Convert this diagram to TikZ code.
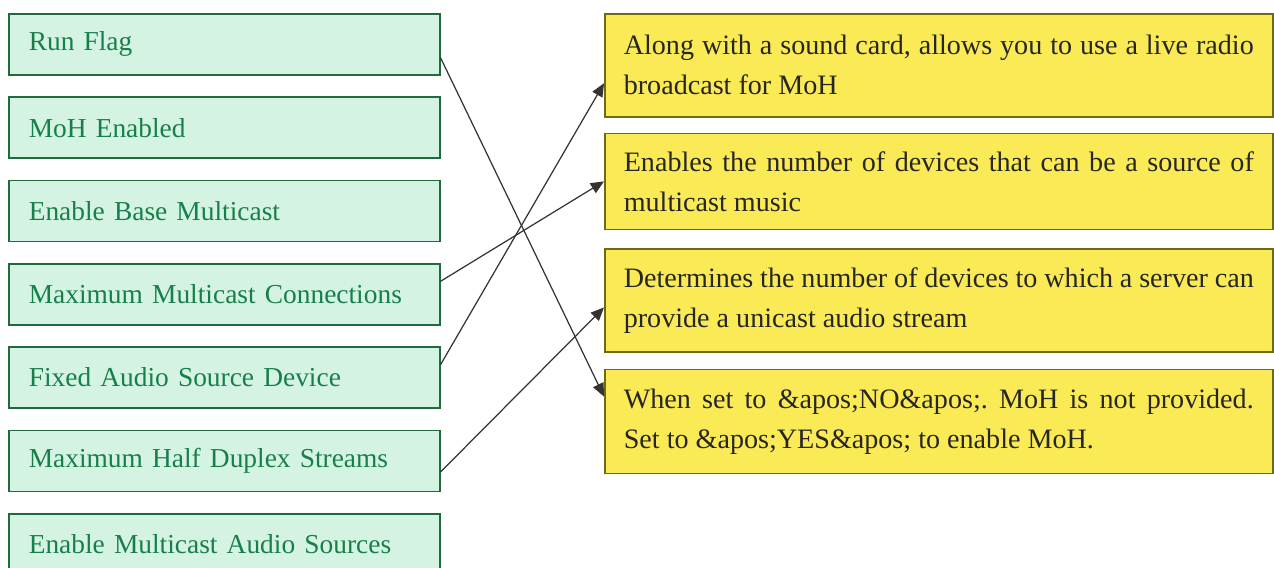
\documentclass[tikz,border=0pt]{standalone}
\usepackage{fontspec}
\setmainfont{Liberation Serif}
\usetikzlibrary{positioning,arrows.meta}

\definecolor{mintfill}{HTML}{D5F3E2}
\definecolor{mintdraw}{HTML}{1F6B3E}
\definecolor{minttext}{HTML}{17804A}
\definecolor{lemonfill}{HTML}{FAEA55}
\definecolor{lemondraw}{HTML}{6E6A10}
\definecolor{wirecol}{HTML}{333333}

\tikzset{
  param/.style={draw=mintdraw, fill=mintfill, text=minttext, line width=0.9pt,
    text width=7.82cm, inner xsep=0.4cm, minimum height=1.22cm, align=left,
    font=\fontsize{15.6}{20}\selectfont},
  descr/.style={draw=lemondraw, fill=lemonfill, text=black!85, line width=0.9pt,
    text width=12.6cm, inner xsep=0.38cm, minimum height=2.06cm, align=justify,
    font=\fontsize{16}{22.8}\selectfont\frenchspacing},
  wire/.style={wirecol, line width=0.7pt, -{Triangle[length=7.5pt,width=6.5pt]}}
}

\begin{document}
\begin{tikzpicture}[node distance=0.415cm]
    \useasboundingbox (0,0) rectangle (25.48,-11.34);

    % Parameters (left column)
    \node[param, anchor=north west] (runflag) at (0.16,-0.26) {Run Flag};
    \node[param, below=of runflag] (mohen) {MoH Enabled};
    \node[param, below=of mohen] (basemc) {Enable Base Multicast};
    \node[param, below=of basemc] (maxmc) {Maximum Multicast Connections};
    \node[param, below=of maxmc] (fixedsrc) {Fixed Audio Source Device};
    \node[param, below=of fixedsrc] (halfdup) {Maximum Half Duplex Streams};
    \node[param, below=of halfdup] (mcsrc) {Enable Multicast Audio Sources};

    % Descriptions (right column)
    \node[descr, anchor=north west, minimum height=2.06cm] (radio) at (12.08,-0.26)
        {Along with a sound card, allows you to use a live radio\linebreak broadcast for MoH};
    \node[descr, below=0.3cm of radio, minimum height=1.92cm] (devices)
        {Enables the number of devices that can be a source of\linebreak multicast music};
    \node[descr, below=0.36cm of devices, minimum height=2.06cm] (unicast)
        {Determines the number of devices to which a server can\linebreak provide a unicast audio stream};
    \node[descr, below=0.32cm of unicast, minimum height=2.08cm] (noyes)
        {When set to \&apos;NO\&apos;. MoH is not provided.\linebreak Set to \&apos;YES\&apos; to enable MoH.};

    % Matches
    \draw[wire] ([yshift=-0.27cm]runflag.east) -- ([yshift=0.5cm]noyes.west);
    \draw[wire] ([yshift=0.26cm]maxmc.east) -- (devices.west);
    \draw[wire] ([yshift=0.26cm]fixedsrc.east) -- ([yshift=-0.36cm]radio.west);
    \draw[wire] ([yshift=-0.22cm]halfdup.east) -- ([yshift=-0.14cm]unicast.west);
\end{tikzpicture}
\end{document}
